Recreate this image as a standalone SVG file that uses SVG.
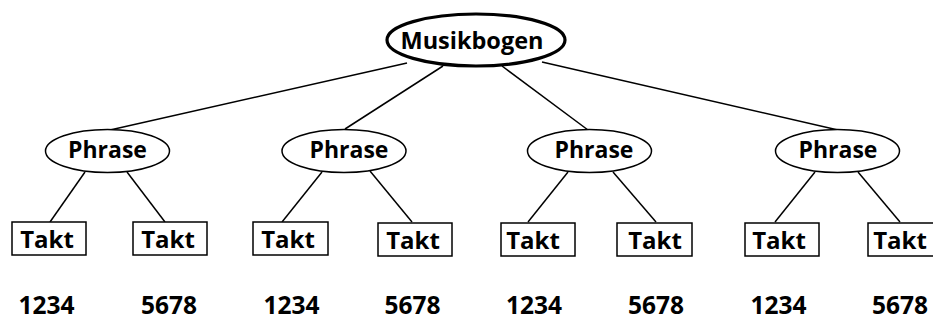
<svg xmlns="http://www.w3.org/2000/svg" width="933" height="320" viewBox="0 0 933 320">
<style>
.c line{stroke:#000;stroke-width:1.5}
.root{fill:#fff;stroke:#000;stroke-width:3.2}
.ph{fill:#fff;stroke:#000;stroke-width:1.5}
.bx{fill:#fff;stroke:#000;stroke-width:1.5}
text{font-family:"Open Sans","Noto Sans",sans-serif;font-weight:bold;fill:#000;text-anchor:middle}
.t1{font-size:23.5px}
.t2{font-size:23px}
.t3{font-size:24px}
.num{font-size:24.5px}
</style>
<rect width="933" height="320" fill="#fff"/>
<g class="c" id="connectors">
<line x1="407" y1="63" x2="110" y2="130"/>
<line x1="443" y1="66" x2="345" y2="129"/>
<line x1="502" y1="66" x2="588" y2="130"/>
<line x1="542" y1="62" x2="838" y2="130"/>
<line x1="85" y1="172" x2="50" y2="222"/>
<line x1="127" y1="172" x2="165" y2="222"/>
<line x1="322" y1="172" x2="282" y2="222"/>
<line x1="370" y1="171" x2="412" y2="222"/>
<line x1="568" y1="172" x2="528" y2="222"/>
<line x1="613" y1="172" x2="656" y2="222"/>
<line x1="815" y1="172" x2="775" y2="222"/>
<line x1="858" y1="172" x2="900" y2="222"/>
</g>
<g id="musikbogen"><ellipse class="root" cx="476" cy="40" rx="89" ry="26"/><text class="t1" x="472" y="49">Musikbogen</text></g>
<g id="phrase1"><ellipse class="ph" cx="107.5" cy="151" rx="62" ry="21.5"/><text class="t2" x="107.5" y="158">Phrase</text></g>
<g id="phrase2"><ellipse class="ph" cx="344" cy="151" rx="62" ry="21.5"/><text class="t2" x="349" y="158">Phrase</text></g>
<g id="phrase3"><ellipse class="ph" cx="589.5" cy="151" rx="62" ry="21.5"/><text class="t2" x="594" y="158">Phrase</text></g>
<g id="phrase4"><ellipse class="ph" cx="837.5" cy="151" rx="62" ry="21.5"/><text class="t2" x="838" y="158">Phrase</text></g>
<g id="takt1"><rect class="bx" x="12" y="222" width="74" height="33"/><text class="t3" x="47" y="248">Takt</text></g>
<g id="takt2"><rect class="bx" x="133" y="222" width="74" height="33"/><text class="t3" x="168" y="248">Takt</text></g>
<g id="takt3"><rect class="bx" x="253" y="222" width="75" height="33"/><text class="t3" x="288" y="248">Takt</text></g>
<g id="takt4"><rect class="bx" x="378" y="223" width="74" height="33"/><text class="t3" x="413" y="249">Takt</text></g>
<g id="takt5"><rect class="bx" x="501" y="223" width="74" height="33"/><text class="t3" x="533" y="249">Takt</text></g>
<g id="takt6"><rect class="bx" x="617" y="223" width="75" height="33"/><text class="t3" x="655" y="249">Takt</text></g>
<g id="takt7"><rect class="bx" x="745" y="223" width="74" height="33"/><text class="t3" x="779" y="249">Takt</text></g>
<g id="takt8"><rect class="bx" x="868" y="223" width="74" height="33"/><text class="t3" x="900" y="249">Takt</text></g>
<g id="numbers">
<text class="num" x="46.5" y="314">1234</text>
<text class="num" x="169" y="314">5678</text>
<text class="num" x="291.5" y="314">1234</text>
<text class="num" x="412.5" y="314">5678</text>
<text class="num" x="534" y="314">1234</text>
<text class="num" x="656" y="314">5678</text>
<text class="num" x="778.5" y="314">1234</text>
<text class="num" x="900" y="314">5678</text>
</g>
</svg>
